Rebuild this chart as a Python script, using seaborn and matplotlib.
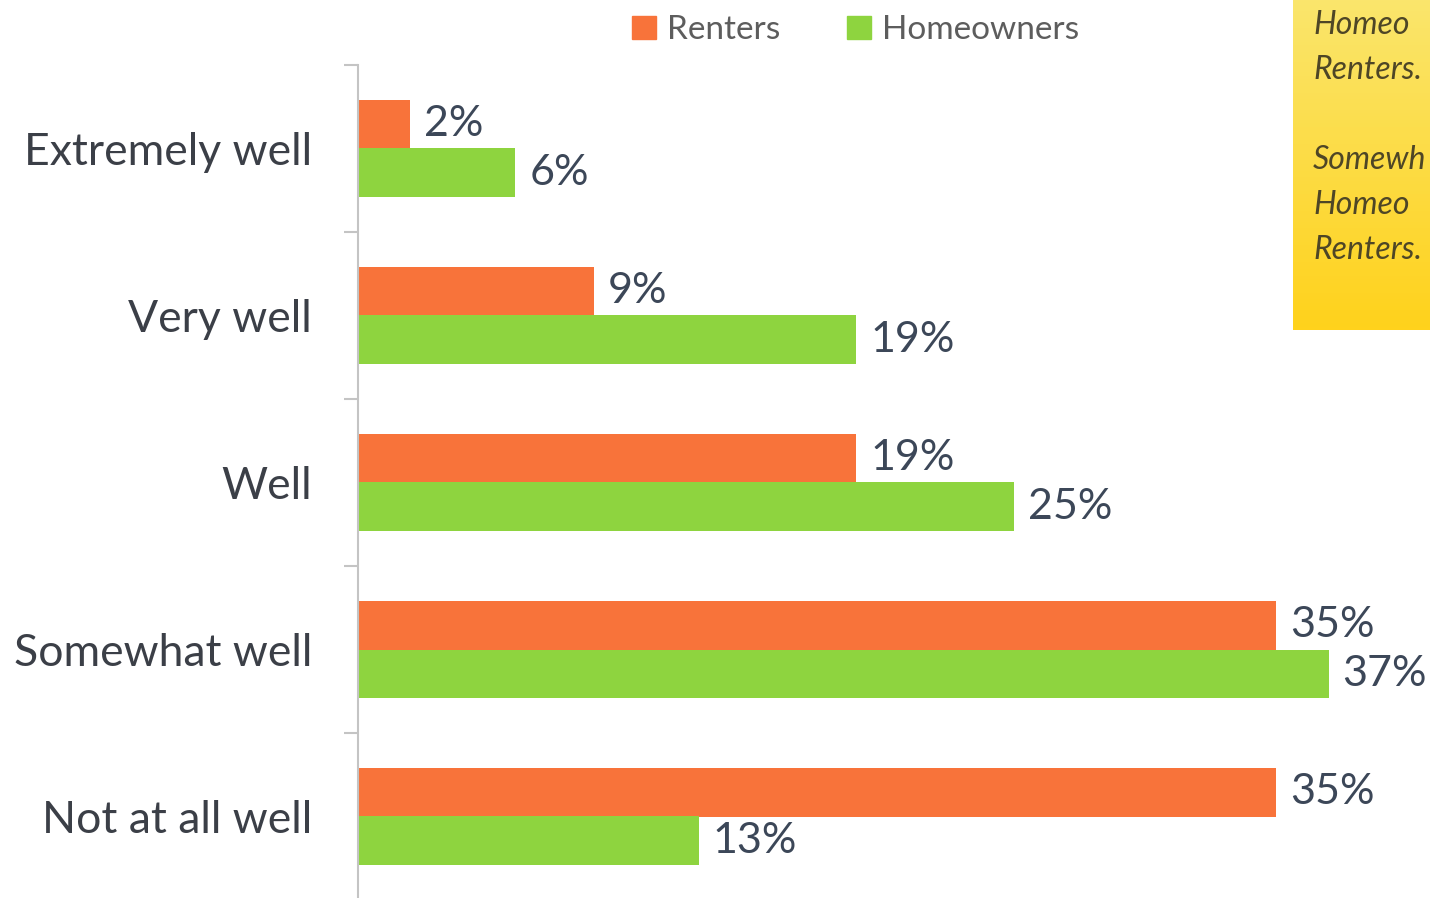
import matplotlib
matplotlib.use("Agg")
import matplotlib.pyplot as plt
import numpy as np
import pandas as pd
import seaborn as sns

# data
categories = ["Extremely well", "Very well", "Well", "Somewhat well", "Not at all well"]
renters = [2, 9, 19, 35, 35]
homeowners = [6, 19, 25, 37, 13]
groups = ["Renters", "Homeowners"]
# the note box is cut off by the right edge in the original
note_lines = ["Homeo", "Renters.", "", "Somewh", "Homeo", "Renters."]

df = pd.DataFrame({
    "Answer": categories * 2,
    "Group": [groups[0]] * len(categories) + [groups[1]] * len(categories),
    "Pct": renters + homeowners,
})

sns.set_style("white")
plt.rcParams["font.family"] = ["Lato", "DejaVu Sans"]

text_col = "#3b3f47"
label_col = "#3c4758"
colors = {"Renters": "#F8733A", "Homeowners": "#8ED43F"}

fig = plt.figure(figsize=(14.3, 8.98), dpi=100)
ax = fig.add_axes([358 / 1430, -2 / 898, 1 - 358 / 1430, 835 / 898])

sns.barplot(data=df, y="Answer", x="Pct", hue="Group", order=categories,
            hue_order=groups, palette=colors, orient="h", width=0.58,
            saturation=1, ax=ax, legend=False, edgecolor="none")

for cont in ax.containers:
    ax.bar_label(cont, fmt="%d%%", padding=10, fontsize=31, color=label_col)

ax.set_xlim(0, 1072 / 26.23)
ax.set_ylim(4.5, -0.5)
ax.set_xlabel("")
ax.set_ylabel("")
ax.set_xticks([])
for s in ["top", "right", "bottom"]:
    ax.spines[s].set_visible(False)
ax.spines["left"].set_color("#c4c4c4")
ax.spines["left"].set_linewidth(1.5)
ax.set_yticks(np.arange(-0.5, 5, 1), minor=True)
ax.tick_params(axis="y", which="minor", length=10, width=1.5, color="#c4c4c4", left=True)
ax.tick_params(axis="y", which="major", length=0, pad=33, labelsize=32, labelcolor=text_col)

# legend at top
handles = [plt.Rectangle((0, 0), 1, 1, color=colors[g]) for g in groups]
fig.legend(handles, groups, loc="center", bbox_to_anchor=(856 / 1430, 1 - 30 / 898),
           ncol=2, frameon=False, fontsize=24, labelcolor="#5d5d5d",
           handlelength=0.7, handleheight=0.7, handletextpad=0.35, columnspacing=2.0)

# yellow note box, cut off at the right edge
box = fig.add_axes([1293 / 1430, 1 - 330 / 898, 1 - 1293 / 1430, 330 / 898 + 0.01])
grad = np.linspace(0, 1, 100).reshape(-1, 1)
ycmap = matplotlib.colors.LinearSegmentedColormap.from_list("y", ["#FAE66E", "#FFD21C"])
box.imshow(grad, aspect="auto", cmap=ycmap, extent=[0, 1, 0, 1], origin="upper")
box.set_xlim(0, 1)
box.set_ylim(0, 1)
box.axis("off")
ys = [25, 70, 115, 160, 205, 250]
for line, yy in zip(note_lines, ys):
    box.text(20 / 137, 1 - (yy + 9) / 339, line, fontsize=23, style="italic",
             color="#4e4626", va="center", ha="left")

fig.savefig("out.png", dpi=100)
